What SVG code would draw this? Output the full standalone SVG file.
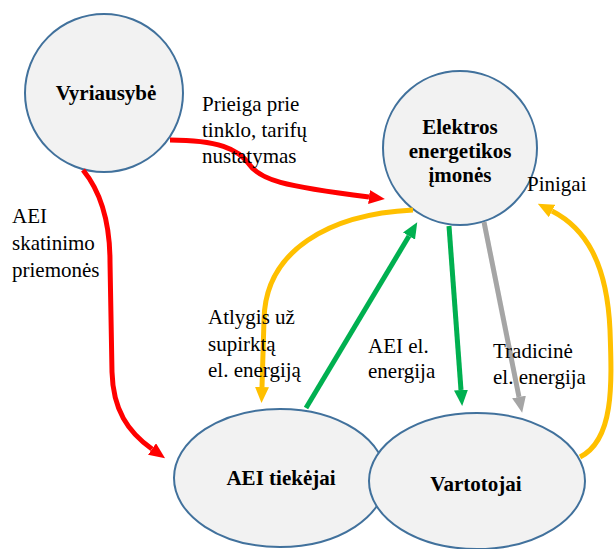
<svg xmlns="http://www.w3.org/2000/svg" width="616" height="549" viewBox="0 0 616 549">
  <style>
    .node { fill: #F2F2F2; stroke: #41719C; stroke-width: 2; }
    .title { font-size: 21px; font-weight: bold; fill: #000; text-anchor: middle; }
    .label { font-size: 21px; fill: #000; }
    .flow { fill: none; stroke-width: 5; stroke-linecap: butt; }
    .red { stroke: #FF0000; }
    .yellow { stroke: #FFC000; }
    .green { stroke: #00B050; }
    .gray { stroke: #A5A5A5; }
  </style>
  <defs>
    <marker id="ah-red" viewBox="0 0 16 14" refX="0" refY="7" markerWidth="16" markerHeight="14" markerUnits="userSpaceOnUse" orient="auto">
      <path d="M0,0 L16,7 L0,14 Z" fill="#FF0000"/>
    </marker>
    <marker id="ah-yellow" viewBox="0 0 16 14" refX="0" refY="7" markerWidth="16" markerHeight="14" markerUnits="userSpaceOnUse" orient="auto">
      <path d="M0,0 L16,7 L0,14 Z" fill="#FFC000"/>
    </marker>
    <marker id="ah-green" viewBox="0 0 16 14" refX="0" refY="7" markerWidth="16" markerHeight="14" markerUnits="userSpaceOnUse" orient="auto">
      <path d="M0,0 L16,7 L0,14 Z" fill="#00B050"/>
    </marker>
    <marker id="ah-gray" viewBox="0 0 16 14" refX="0" refY="7" markerWidth="16" markerHeight="14" markerUnits="userSpaceOnUse" orient="auto">
      <path d="M0,0 L16,7 L0,14 Z" fill="#A5A5A5"/>
    </marker>
  </defs>

  <g font-family="Liberation Serif, Times New Roman, DejaVu Serif, serif">
  <!-- nodes -->
  <g id="vyriausybe">
    <circle class="node" cx="104" cy="93" r="79"/>
    <text class="title" x="106" y="100">Vyriausybė</text>
  </g>
  <g id="elektros-energetikos-imones">
    <circle class="node" cx="460" cy="148" r="77"/>
    <text class="title" x="460" y="134">Elektros</text>
    <text class="title" x="460" y="158">energetikos</text>
    <text class="title" x="460" y="182">įmonės</text>
  </g>
  <g id="aei-tiekejai">
    <ellipse class="node" cx="280" cy="478" rx="106" ry="69"/>
    <text class="title" x="281" y="485">AEI tiekėjai</text>
  </g>
  <g id="vartotojai">
    <ellipse class="node" cx="477" cy="481" rx="108" ry="68"/>
    <text class="title" x="476" y="491">Vartotojai</text>
  </g>

  <!-- connectors -->
  <g id="connectors">
    <path class="flow red" d="M170,140 C218,140 238,149 249,164 C260,180 282,186 369,197" marker-end="url(#ah-red)"/>
    <path class="flow red" d="M83,170 C101,192 110,222 110,262 L112,372 C113,410 128,432 152,449" marker-end="url(#ah-red)"/>
    <path class="flow yellow" d="M413,210 C330,214 265,250 264,320 L262,387" marker-end="url(#ah-yellow)"/>
    <path class="flow green" d="M306,408 L409,236" marker-end="url(#ah-green)"/>
    <path class="flow green" d="M449,226 L461,390" marker-end="url(#ah-green)"/>
    <path class="flow gray" d="M484,222 L519,397" marker-end="url(#ah-gray)"/>
    <path class="flow yellow" d="M580,457 C614,440 612,385 610,330 C607,262 585,228 552,211" marker-end="url(#ah-yellow)"/>
  </g>

  <!-- connector labels -->
  <g id="labels">
    <text class="label" x="202" y="111">Prieiga prie</text>
    <text class="label" x="202" y="137">tinklo, tarifų</text>
    <text class="label" x="202" y="163">nustatymas</text>

    <text class="label" x="12" y="223">AEI</text>
    <text class="label" x="12" y="250">skatinimo</text>
    <text class="label" x="12" y="277">priemonės</text>

    <text class="label" x="208" y="324">Atlygis už</text>
    <text class="label" x="208" y="351">supirktą</text>
    <text class="label" x="208" y="377">el. energiją</text>

    <text class="label" x="368" y="353">AEI el.</text>
    <text class="label" x="368" y="378">energija</text>

    <text class="label" x="493" y="358">Tradicinė</text>
    <text class="label" x="493" y="384">el. energija</text>

    <text class="label" x="527" y="191">Pinigai</text>
  </g>
  </g>
</svg>
